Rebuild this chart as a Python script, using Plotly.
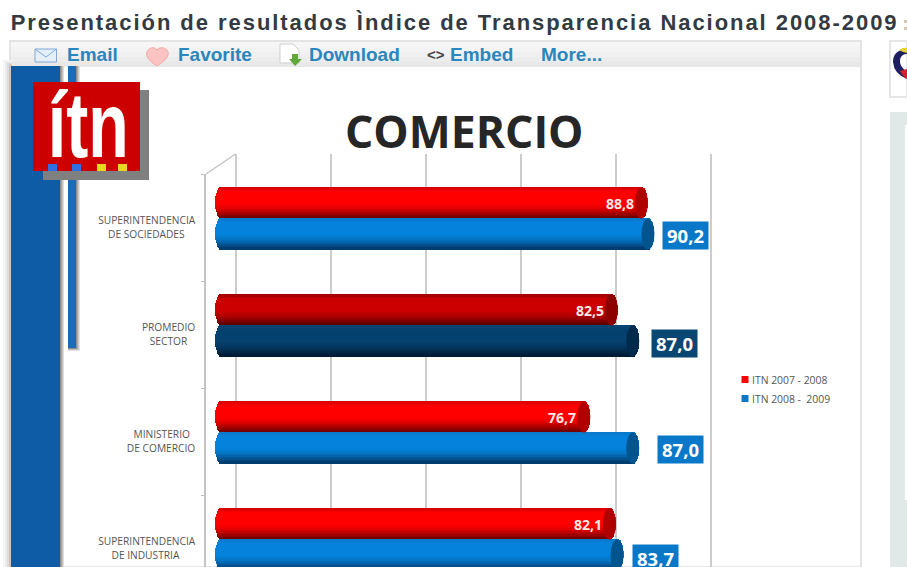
import math
import plotly.graph_objects as go

# ---------- data ----------
CATEGORIES = ["SUPERINTENDENCIA<br>DE SOCIEDADES", "PROMEDIO<br>SECTOR",
              "MINISTERIO<br>DE COMERCIO", "SUPERINTENDENCIA<br>DE INDUSTRIA"]
SERIES_NAMES = ["ITN 2007 - 2008", "ITN 2008 -  2009"]
ITN_2008 = [88.8, 82.5, 76.7, 82.1]
ITN_2009 = [90.2, 87.0, 87.0, 83.7]
GRID_TICKS = [0, 20, 40, 60, 80, 100]

# ---------- page geometry ----------
W, H = 907, 567
PX_PER_UNIT = 4.75
BAR_ZERO_PX = 226.0
BAR_LEFT_PX = 215.0
GROUP_STEP = 107.0
BAR_ROW0_PX = 218.5
LABEL_ROW0_PX = 227.5
AXIS_PX = 206.0
BAR_THICK = 31.0
CAP_PX = 6.5
N_SLICES = 20


def X(p):
    return p / W


def Y(p):
    return 1 - p / H


def lerp(c1, c2, t):
    return tuple(c1[i] + (c2[i] - c1[i]) * t for i in range(3))


def profile(top, mid, bottom, f):
    """f = 0 at the top of the cylinder, 1 at the bottom."""
    if f < 0.18:
        c = lerp(top, mid, f / 0.18)
    elif f < 0.55:
        c = mid
    else:
        c = lerp(mid, bottom, ((f - 0.55) / 0.45) ** 1.3)
    return "rgb(%d,%d,%d)" % tuple(round(v) for v in c)


RED = ((205, 0, 0), (255, 0, 0), (105, 0, 0))
RED_DK = ((150, 0, 0), (205, 0, 0), (85, 0, 0))
BLUE = ((10, 120, 200), (5, 130, 220), (0, 55, 100))
BLUE_DK = ((10, 70, 115), (5, 65, 110), (0, 25, 50))

fig = go.Figure()

# grid subplot (back wall of the 3-D chart)
fig.add_trace(go.Scatter(x=[None], y=[None], xaxis="x", yaxis="y", showlegend=False, hoverinfo="skip"))

# cylinders: stacked thin bars give the shading and rounded ends
a_units = CAP_PX / PX_PER_UNIT
left_units = (BAR_LEFT_PX - BAR_ZERO_PX) / PX_PER_UNIT
bar_width = BAR_THICK / GROUP_STEP
for s, values in enumerate([ITN_2008, ITN_2009]):
    centre_off = (-0.5 if s == 0 else 0.5) * bar_width
    for k in range(N_SLICES):
        f = (k + 0.5) / N_SLICES
        bow = math.sqrt(max(0.0, 1 - (2 * f - 1) ** 2))
        start = left_units + a_units * (1 - bow)
        ends = [v - a_units * (1 - bow) for v in values]
        colours = []
        for i in range(len(values)):
            if s == 0:
                stops = RED_DK if i == 1 else RED
            else:
                stops = BLUE_DK if i == 1 else BLUE
            colours.append(profile(*stops, f))
        fig.add_trace(go.Bar(
            orientation="h",
            y=[i + centre_off + (f - 0.5) * bar_width for i in range(len(values))],
            x=[e - start for e in ends],
            base=start,
            width=bar_width / N_SLICES * 1.25,
            marker=dict(color=colours, line=dict(width=0)),
            xaxis="x2", yaxis="y2", showlegend=False, hoverinfo="skip",
        ))


def pad_label(txt):
    lines = txt.split("<br>")
    m = max(len(l) for l in lines)
    out = []
    for l in lines:
        out.append(l + "\u00a0" * round((m - len(l)) * 1.5))
    return "<br>".join(out)


# front-wall axis that carries the category labels
fig.add_trace(go.Scatter(x=[None], y=[0], xaxis="x2", yaxis="y3", showlegend=False, hoverinfo="skip"))

# legend
for name, col in zip(SERIES_NAMES, ["#ff0000", "#0878c8"]):
    fig.add_trace(go.Scatter(x=[None], y=[None], mode="markers", name=name,
                             marker=dict(symbol="square", size=7, color=col),
                             xaxis="x2", yaxis="y2"))

shapes = []
annots = []


def rect(x0, y0, x1, y1, fill, line=None, lw=0, layer="below"):
    shapes.append(dict(type="rect", xref="paper", yref="paper", x0=X(x0), x1=X(x1), y0=Y(y0), y1=Y(y1),
                       fillcolor=fill, line=dict(color=line or fill, width=lw), layer=layer))


def path(d, fill=None, line=None, lw=1, layer="below"):
    parts = []
    for cmd, *pts in d:
        if cmd == "Z":
            parts.append("Z")
        else:
            parts.append(cmd + " ".join(f"{X(pts[i]):.5f},{Y(pts[i+1]):.5f}" for i in range(0, len(pts), 2)))
    shapes.append(dict(type="path", xref="paper", yref="paper", path=" ".join(parts),
                       fillcolor=fill or "rgba(0,0,0,0)", line=dict(color=line or "rgba(0,0,0,0)", width=lw), layer=layer))


def text(x, y, s, size, color, family="Liberation Sans", anchor="left", bold=True):
    if anchor == "left":
        x -= 2
    annots.append(dict(xref="paper", yref="paper", x=X(x), y=Y(y), xanchor=anchor, yanchor="middle",
                       showarrow=False, text=f"<b>{s}</b>" if bold else s,
                       font=dict(size=size, color=color, family=family)))


# page chrome
rect(10, 41, 861, 567, "#ffffff", "#e4e4e4", 2)
for i, c in enumerate(["#f6f6f6", "#f3f3f3", "#f0f0f0", "#ececec", "#e8e8e8"]):
    rect(11, 42 + i * 5, 860, 47 + i * 5, c)
# left stripes with soft shadows
for i, c in enumerate(["#f5f5f5", "#ebebeb", "#dcdcdc", "#c8c8c8"]):
    rect(3 + 2 * i, 60 + 1.5 * i, 12, 567, c)
for i, c in enumerate(["#dddddd", "#b5b5b5", "#8e8e8e"]):
    rect(58, 66, 64 - i * 1.3, 567, c)
rect(11, 66, 60, 567, "#0e5ca6")
for i, c in enumerate(["#e2e2e2", "#bdbdbd", "#8e8e8e"]):
    rect(68, 66, 80 - i * 1.3, 351 - i, c)
rect(68, 66, 76, 348, "#1a6cb8")
# right column
rect(890, 41, 907, 97, "#ffffff", "#e6e6e6", 2)
rect(890, 112, 907, 567, "#e0e9e7")
rect(905, 125, 907, 500, "#ffffff")
path([("M", 907, 49), ("Q", 893, 50, 893, 62), ("Q", 894, 74, 907, 79), ("L", 907, 72), ("Q", 899, 66, 900, 60), ("Q", 901, 54, 907, 54), ("Z",)], fill="#1c2060")
path([("M", 899, 50), ("Q", 903, 47, 907, 48), ("L", 907, 53), ("Q", 902, 52, 899, 50), ("Z",)], fill="#e8cf30")
path([("M", 900, 71), ("L", 907, 69), ("L", 907, 79), ("Q", 903, 77, 900, 71), ("Z",)], fill="#d02030")
# clipped character at the far end of the page title
rect(904, 20, 907, 23, "#d8c8a8")
rect(904, 27, 907, 30, "#d8c8a8")

# logo
rect(43, 90, 149, 180, "#808080")
rect(33, 82, 140, 171, "#cc0000")
for x0, c in [(48, "#2f6fe0"), (72, "#2f6fe0"), (97, "#e8d820"), (118, "#e8d820")]:
    rect(x0, 164, x0 + 9, 171, c)
text(87.5, 125, "ítn", 92, "#ffffff", "Liberation Sans", "center")

# toolbar icons
rect(35, 49, 56.5, 62, "#e4effa", "#7fa8d8", 1)
path([("M", 35, 49), ("L", 46, 57), ("L", 56.5, 49)], line="#7fa8d8", lw=1)
path([("M", 157, 66), ("C", 146, 59, 145, 54, 148, 50), ("C", 151, 47, 155, 47, 157, 50),
      ("C", 159, 47, 164, 47, 167, 50), ("C", 170, 54, 168, 59, 157, 66), ("Z",)], fill="#fbc4c2", line="#f5a8a8", lw=1)
path([("M", 280, 44), ("L", 293, 44), ("L", 299, 50), ("L", 299, 63), ("L", 280, 63), ("Z",)], fill="#ffffff", line="#cfcfcf", lw=1)
path([("M", 292, 54), ("L", 298, 54), ("L", 298, 59), ("L", 302, 59), ("L", 295, 66), ("L", 289, 59), ("L", 292, 59), ("Z",)], fill="#5fa83a")

# page title and toolbar text
text(454, 22, "Presentación de resultados Ìndice de Transparencia Nacional 2008-2009", 22, "#333a42", anchor="center")
LINK = "#2a86bd"
text(67, 54.5, "Email", 19, LINK)
text(178, 54.5, "Favorite", 19, LINK)
text(309, 54.5, "Download", 19, LINK)
text(427, 54.5, "&lt;&gt;", 15, "#444444")
text(450, 54.5, "Embed", 19, LINK)
text(541, 54.5, "More...", 19, LINK)

# chart title
text(465, 130, "COMERCIO", 44.5, "#262626", "Open Sans", "center")

# oblique floor line joining front axis to the back wall
path([("M", AXIS_PX, 174), ("L", 235.5, 154)], line="#c4c4c4", lw=1.5)


def label(v):
    return f"{v:.1f}".replace(".", ",")


# cylinder caps and value labels
LABEL_SHIFT = [8, 12, 18, 8]
LABEL_DROP = [1.5, 2.5, 1.5, 3.5]
for i, (r, b) in enumerate(zip(ITN_2008, ITN_2009)):
    ry = i - bar_width / 2
    by = i + bar_width / 2
    shapes.append(dict(type="circle", xref="x2", yref="y2", layer="above",
                       x0=r - 2 * a_units, x1=r, y0=ry - bar_width / 2, y1=ry + bar_width / 2,
                       fillcolor="#8c0000" if i == 1 else "#b00000", line=dict(width=0)))
    shapes.append(dict(type="circle", xref="x2", yref="y2", layer="above",
                       x0=b - 2 * a_units, x1=b, y0=by - bar_width / 2, y1=by + bar_width / 2,
                       fillcolor="#002a4c" if i == 1 else "#00558f", line=dict(width=0)))
    annots.append(dict(xref="x2", yref="y2", x=r - 2 * a_units, y=ry, xanchor="right", yanchor="middle",
                       showarrow=False, xshift=1, text=f"<b>{label(r)}</b>",
                       font=dict(size=14, color="#ffe8e8", family="Open Sans")))
    annots.append(dict(xref="x2", yref="y2", x=b, y=by, xanchor="left", yanchor="middle",
                       showarrow=False, xshift=LABEL_SHIFT[i], yshift=-LABEL_DROP[i], text=f"<b>{label(b)}</b>",
                       bgcolor="#0a4672" if i == 1 else "#0a78c8", borderpad=0, width=45, height=27,
                       align="center", valign="middle",
                       font=dict(size=18.5, color="#ffffff", family="Open Sans")))

x_dom_bars = [X(AXIS_PX), 1]
bars_range = [(AXIS_PX - BAR_ZERO_PX) / PX_PER_UNIT, (W - BAR_ZERO_PX) / PX_PER_UNIT]

fig.update_layout(
    width=W, height=H, autosize=False,
    margin=dict(l=0, r=0, t=0, b=0, pad=0),
    paper_bgcolor="#ffffff", plot_bgcolor="rgba(0,0,0,0)",
    barmode="overlay", bargap=0,
    shapes=shapes, annotations=annots,
    hovermode=False,
    legend=dict(x=X(725), y=Y(365), xanchor="left", yanchor="top", bgcolor="rgba(0,0,0,0)",
                font=dict(size=10.4, color="#555555", family="Open Sans"),
                tracegroupgap=0, itemwidth=30, traceorder="normal"),
    xaxis=dict(domain=[X(226), X(720)], range=[-2, 102], tickvals=GRID_TICKS, showticklabels=False,
               showgrid=True, gridcolor="#cccccc", gridwidth=1.5, zeroline=False, showline=False, ticks="",
               anchor="y"),
    yaxis=dict(domain=[0, Y(154)], range=[0, 1], visible=False, showgrid=False, anchor="x"),
    xaxis2=dict(domain=x_dom_bars, range=bars_range, visible=False, showgrid=False, zeroline=False, anchor="y2"),
    yaxis2=dict(domain=[0, 1], range=[(H - BAR_ROW0_PX) / GROUP_STEP, -BAR_ROW0_PX / GROUP_STEP],
                visible=False, showgrid=False, zeroline=False, anchor="x2"),
    yaxis3=dict(domain=[0, Y(174)], anchor="x2",
                range=[(H - LABEL_ROW0_PX) / GROUP_STEP, (174 - LABEL_ROW0_PX) / GROUP_STEP],
                tickmode="array", tickvals=list(range(len(CATEGORIES))),
                ticktext=[pad_label(c) for c in CATEGORIES],
                tickfont=dict(size=10.2, color="#555555", family="Open Sans"),
                ticks="", ticklabelstandoff=7,
                minor=dict(tickmode="array", tickvals=[-0.5, 0.5, 1.5, 2.5], ticks="outside", ticklen=3,
                           tickcolor="#c0c0c0", tickwidth=1),
                showgrid=False, zeroline=False, showline=True, linecolor="#c4c4c4", linewidth=1.5),
)

POST = """
document.body.style.margin='0';document.body.style.overflow='hidden';
document.querySelectorAll('.annotation-text').forEach(function(t){
  if(t.textContent.indexOf('Presentaci')===0){t.style.letterSpacing='1.95px';}
  if(t.textContent==='ítn'){t.style.transformBox='fill-box';t.style.transformOrigin='center';t.style.transform='scaleX(0.72)';}
});
document.querySelectorAll('.legendtext').forEach(function(t){
  t.setAttribute('x', parseFloat(t.getAttribute('x'))-13);
});
"""
fig.write_html("out.html", config={"displayModeBar": False}, post_script=POST)
